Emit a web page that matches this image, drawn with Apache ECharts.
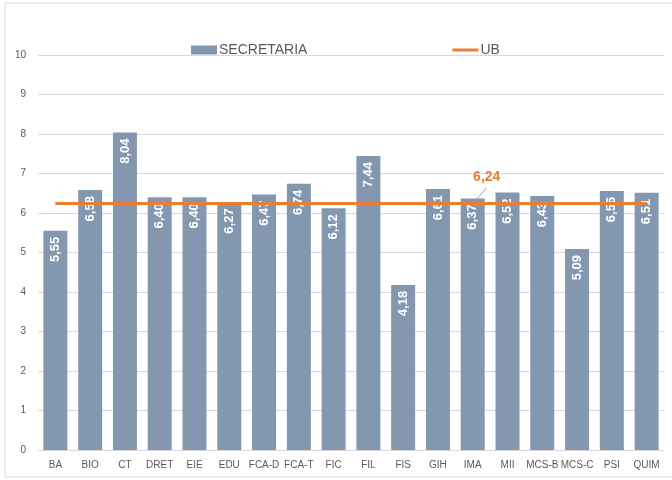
<!DOCTYPE html>
<html>
<head>
<meta charset="utf-8">
<script src="https://cdn.jsdelivr.net/npm/echarts@6/dist/echarts.min.js"></script>
<style>
  html, body { margin: 0; padding: 0; background: #fff; }
  #chart { width: 672px; height: 480px; }
</style>
</head>
<body>
<div id="chart"></div>
<script>
const categories = ['BA', 'BIO', 'CT', 'DRET', 'EIE', 'EDU', 'FCA-D', 'FCA-T', 'FIC',
  'FIL', 'FIS', 'GIH', 'IMA', 'MII', 'MCS-B', 'MCS-C', 'PSI', 'QUIM'];
const secretaria = [5.55, 6.58, 8.04, 6.40, 6.40, 6.27, 6.47, 6.74, 6.12,
  7.44, 4.18, 6.61, 6.37, 6.52, 6.43, 5.09, 6.56, 6.51];
const ub = [6.24, 6.24, 6.24, 6.24, 6.24, 6.24, 6.24, 6.24, 6.24,
  6.24, 6.24, 6.24, 6.24, 6.24, 6.24, 6.24, 6.24, 6.24];
const ubLabelAt = 'IMA';
const yTicks = { min: 0, max: 10, interval: 1 };

const fmt = function (v) {
  return v.toFixed(2).replace('.', ',');
};

const ubIndex = categories.indexOf(ubLabelAt);
const ubData = ub.map(function (v, i) {
  if (i === ubIndex) {
    return { value: v, label: { show: true, position: 'top' } };
  }
  return v;
});

const chart = echarts.init(document.getElementById('chart'));
chart.setOption({
  animation: false,
  textStyle: { fontFamily: 'Liberation Sans' },
  graphic: [{
    type: 'rect',
    shape: { x: 5, y: 3, width: 680, height: 474 },
    style: { fill: 'none', stroke: '#d9d9d9', lineWidth: 1 },
    silent: true
  }],
  legend: {
    left: 186,
    top: 38,
    itemGap: 145,
    itemWidth: 26,
    itemHeight: 9,
    textStyle: { color: '#595959', fontSize: 14, padding: [0, 0, 0, -3] },
    data: [
      { name: 'SECRETARIA', icon: 'rect' },
      { name: 'UB', icon: 'path://M0,0 L26,0 L26,3 L0,3 Z' }
    ]
  },
  grid: { left: 38, right: 8, top: 55, bottom: 30 },
  xAxis: {
    type: 'category',
    data: categories,
    axisLine: { lineStyle: { color: '#d9d9d9' } },
    axisTick: { show: false },
    axisLabel: { color: '#595959', fontSize: 10, interval: 0, margin: 10 }
  },
  yAxis: {
    type: 'value',
    min: yTicks.min,
    max: yTicks.max,
    interval: yTicks.interval,
    axisLine: { show: false },
    axisTick: { show: false },
    axisLabel: { color: '#595959', fontSize: 10, margin: 12 },
    splitLine: { lineStyle: { color: '#d9d9d9' } }
  },
  series: [
    {
      name: 'SECRETARIA',
      type: 'bar',
      data: secretaria,
      barCategoryGap: '31%',
      itemStyle: { color: '#8497b0' },
      label: {
        show: true,
        position: 'insideTop',
        rotate: 90,
        align: 'right',
        verticalAlign: 'middle',
        distance: 6,
        color: '#fff',
        fontWeight: 'bold',
        fontSize: 13,
        formatter: function (p) { return fmt(p.value); }
      }
    },
    {
      name: 'UB',
      type: 'line',
      data: ubData,
      symbol: 'circle',
      symbolSize: 0,
      showSymbol: true,
      lineStyle: { color: '#ed7d31', width: 3 },
      itemStyle: { color: '#ed7d31' },
      label: {
        show: false,
        color: '#ed7d31',
        fontWeight: 'bold',
        fontSize: 14,
        formatter: function (p) { return fmt(p.value); }
      },
      labelLayout: { dx: 14, dy: -14 },
      z: 3
    }
  ]
});

// leader line from the UB point to its label
const p = chart.convertToPixel({ seriesIndex: 1 }, [ubIndex, ub[ubIndex]]);
chart.setOption({
  graphic: [{
    type: 'rect',
    shape: { x: 5, y: 3, width: 680, height: 474 },
    style: { fill: 'none', stroke: '#d9d9d9', lineWidth: 1 },
    silent: true
  }, {
    type: 'line',
    shape: { x1: p[0], y1: p[1], x2: p[0] + 14, y2: p[1] - 16 },
    style: { stroke: '#a6a6a6', lineWidth: 1 },
    z: 2,
    silent: true
  }]
});
</script>
</body>
</html>
